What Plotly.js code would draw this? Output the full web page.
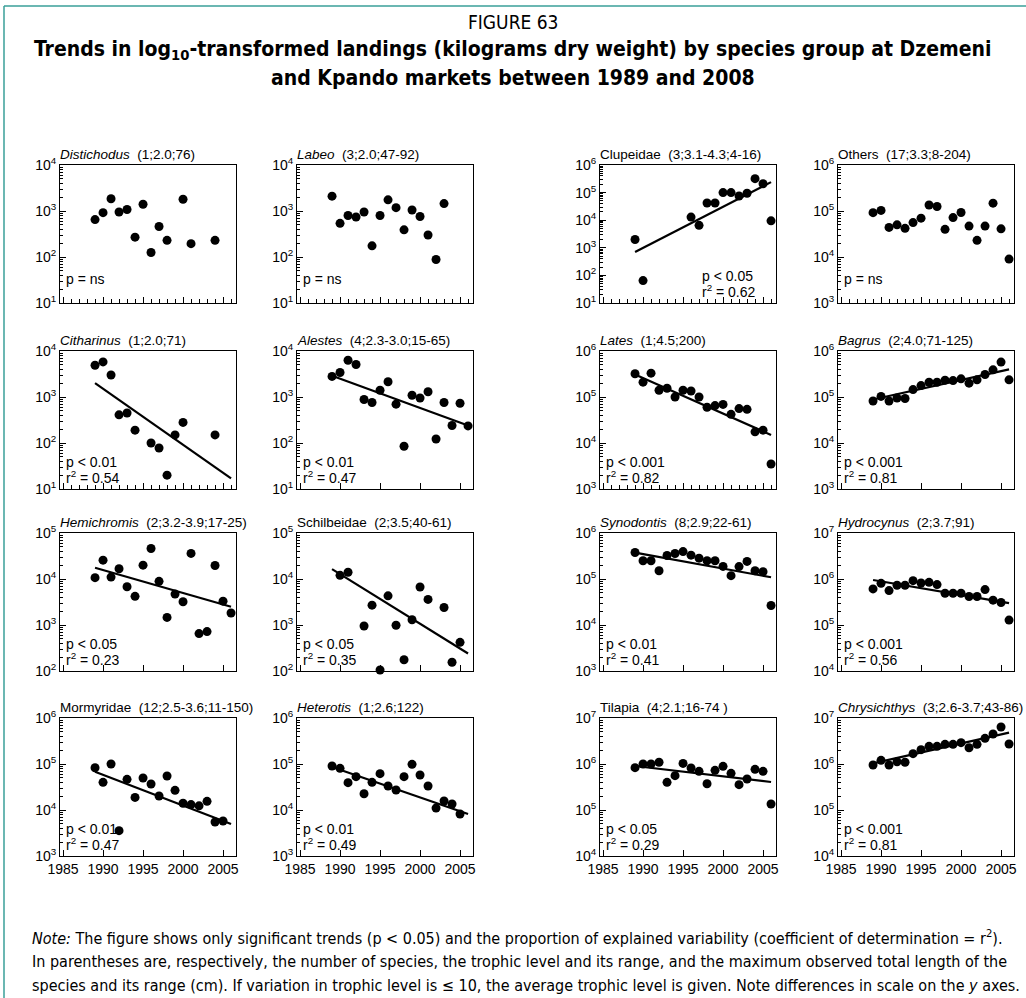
<!DOCTYPE html>
<html><head><meta charset="utf-8">
<script src="https://cdn.plot.ly/plotly-3.0.1.min.js"></script>
<style>html,body{margin:0;padding:0;background:#fff;}#chart{width:1026px;height:998px;}</style>
</head><body><div id="chart"></div>
<script>
// ---------- data (kg dry weight) ----------
const distichodusYears = [1989,1990,1991,1992,1993,1994,1995,1996,1997,1998,2000,2001,2004];
const distichodusKg    = [650,920,1850,950,1080,270,1400,125,460,230,1800,195,230];

const labeoYears = [1989,1990,1991,1992,1993,1994,1995,1996,1997,1998,1999,2000,2001,2002,2003];
const labeoKg    = [2100,540,800,740,950,175,800,1750,1180,390,1050,760,300,88,1450];

const clupeidaeYears = [1989,1990,1996,1997,1998,1999,2000,2001,2002,2003,2004,2005,2006];
const clupeidaeKg    = [2000,65,13000,6500,42000,42000,100000,100000,75000,95000,320000,210000,9500];
const clupeidaeTrendYears = [1989,2006];
const clupeidaeTrendKg    = [700,240000];

const othersYears = [1989,1990,1991,1992,1993,1994,1995,1996,1997,1998,1999,2000,2001,2002,2003,2004,2005,2006];
const othersKg    = [92000,103000,44000,50000,42000,56000,70000,135000,125000,40000,72000,93000,47000,23000,47000,148000,41000,9000];

const citharinusYears = [1989,1990,1991,1992,1993,1994,1996,1997,1998,1999,2000,2004];
const citharinusKg    = [4900,5800,3000,410,450,190,100,78,20,150,280,150];
const citharinusTrendYears = [1989,2006];
const citharinusTrendKg    = [2000,17];

const alestesYears = [1989,1990,1991,1992,1993,1994,1995,1996,1997,1998,1999,2000,2001,2002,2003,2004,2005,2006];
const alestesKg    = [2800,3400,6300,5100,880,760,1400,2150,700,85,1090,950,1300,122,760,240,730,235];
const alestesTrendYears = [1989,2006];
const alestesTrendKg    = [2900,240];

const latesYears = [1989,1990,1991,1992,1993,1994,1995,1996,1997,1998,1999,2000,2001,2002,2003,2004,2005,2006];
const latesKg    = [320000,210000,330000,140000,155000,100000,140000,135000,100000,60000,65000,69000,42000,56000,54000,17500,19000,3500];
const latesTrendYears = [1989,2006];
const latesTrendKg    = [310000,15000];

const bagrusYears = [1989,1990,1991,1992,1993,1994,1995,1996,1997,1998,1999,2000,2001,2002,2003,2004,2005,2006];
const bagrusKg    = [82000,103000,82000,95000,93000,145000,177000,209000,209000,232000,227000,248000,200000,236000,308000,390000,574000,236000];
const bagrusTrendYears = [1989,2006];
const bagrusTrendKg    = [88000,400000];

const hemichromisYears = [1989,1990,1991,1992,1993,1994,1995,1996,1997,1998,1999,2000,2001,2002,2003,2004,2005,2006];
const hemichromisKg    = [10700,25700,11000,16700,6800,4200,20000,46000,8900,1460,4700,3200,36000,650,720,19700,3300,1820];
const hemichromisTrendYears = [1989,2006];
const hemichromisTrendKg    = [17600,2500];

const schilbeidaeYears = [1990,1991,1993,1994,1995,1996,1997,1998,1999,2000,2001,2003,2004,2005];
const schilbeidaeKg    = [12000,14000,950,2700,105,4300,990,176,1300,6700,3600,2400,155,420];
const schilbeidaeTrendYears = [1989,2006];
const schilbeidaeTrendKg    = [16400,240];

const synodontisYears = [1989,1990,1991,1992,1993,1994,1995,1996,1997,1998,1999,2000,2001,2002,2003,2004,2005,2006];
const synodontisKg    = [377000,249000,249000,151000,324000,358000,395000,330000,284000,249000,249000,188000,118000,186000,241000,151000,144000,26600];
const synodontisTrendYears = [1989,2006];
const synodontisTrendKg    = [375000,109000];

const hydrocynusYears = [1989,1990,1991,1992,1993,1994,1995,1996,1997,1998,1999,2000,2001,2002,2003,2004,2005,2006];
const hydrocynusKg    = [608000,806000,560000,730000,730000,920000,820000,847000,755000,491000,491000,491000,416000,416000,589000,347000,308000,128000];
const hydrocynusTrendYears = [1989,2006];
const hydrocynusTrendKg    = [950000,298000];

const mormyridaeYears = [1989,1990,1991,1992,1993,1994,1995,1996,1997,1998,1999,2000,2001,2002,2003,2004,2005];
const mormyridaeKg    = [83000,40000,100000,3550,46400,18800,49700,36700,20100,54800,26800,14000,13100,12300,15400,5480,5770];
const mormyridaeTrendYears = [1989,2006];
const mormyridaeTrendKg    = [68000,4970];

const heterotisYears = [1989,1990,1991,1992,1993,1994,1995,1996,1997,1998,1999,2000,2001,2002,2003,2004,2005];
const heterotisKg    = [90500,80500,39300,53000,22600,40000,61600,33200,27200,53000,98400,57700,33200,11000,15700,13500,8200];
const heterotisTrendYears = [1989,2006];
const heterotisTrendKg    = [86000,8200];

const tilapiaYears = [1989,1990,1991,1992,1993,1994,1995,1996,1997,1998,1999,2000,2001,2002,2003,2004,2005,2006];
const tilapiaKg    = [832000,1000000,1000000,1090000,399000,557000,1030000,818000,693000,373000,728000,890000,627000,356000,472000,766000,693000,135000];
const tilapiaTrendYears = [1989,2006];
const tilapiaTrendKg    = [906000,406000];

const chrysichthysYears = [1989,1990,1991,1992,1993,1994,1995,1996,1997,1998,1999,2000,2001,2002,2003,2004,2005,2006];
const chrysichthysKg    = [950000,1200000,950000,1120000,1090000,1680000,2050000,2420000,2420000,2680000,2680000,2910000,2260000,2680000,3610000,4490000,6370000,2720000];
const chrysichthysTrendYears = [1989,2006];
const chrysichthysTrendKg    = [1030000,4800000];

// panel titles and statistics text
const panelTitles = [
  '<i>Distichodus</i>  (1;2.0;76)', '<i>Labeo</i>  (3;2.0;47-92)', 'Clupeidae  (3;3.1-4.3;4-16)', 'Others  (17;3.3;8-204)',
  '<i>Citharinus</i>  (1;2.0;71)', '<i>Alestes</i>  (4;2.3-3.0;15-65)', '<i>Lates</i>  (1;4.5;200)', '<i>Bagrus</i>  (2;4.0;71-125)',
  '<i>Hemichromis</i>  (2;3.2-3.9;17-25)', 'Schilbeidae  (2;3.5;40-61)', '<i>Synodontis</i>  (8;2.9;22-61)', '<i>Hydrocynus</i>  (2;3.7;91)',
  'Mormyridae  (12;2.5-3.6;11-150)', '<i>Heterotis</i>  (1;2.6;122)', 'Tilapia  (4;2.1;16-74 )', '<i>Chrysichthys</i>  (3;2.6-3.7;43-86)'
];
const panelP  = ['p = ns','p = ns','p &lt; 0.05','p = ns','p &lt; 0.01','p &lt; 0.01','p &lt; 0.001','p &lt; 0.001',
                 'p &lt; 0.05','p &lt; 0.05','p &lt; 0.01','p &lt; 0.001','p &lt; 0.01','p &lt; 0.01','p &lt; 0.05','p &lt; 0.001'];
const panelR2 = [null,null,'0.62',null,'0.54','0.47','0.82','0.81','0.23','0.35','0.41','0.56','0.47','0.49','0.29','0.81'];
// log10 axis ranges (exponents)
const panelYMin = [1,1,1,3, 1,1,3,3, 2,2,3,4, 3,3,4,4];
const panelYMax = [4,4,6,6, 4,4,6,6, 5,5,6,7, 6,6,7,7];
const yearTickLabels = [1985,1990,1995,2000,2005];

// ---------- build ----------
const series = [
  [distichodusYears, distichodusKg, null, null, true],
  [labeoYears, labeoKg, null, null, true],
  [clupeidaeYears, clupeidaeKg, clupeidaeTrendYears, clupeidaeTrendKg, true],
  [othersYears, othersKg, null, null, true],
  [citharinusYears, citharinusKg, citharinusTrendYears, citharinusTrendKg, true],
  [alestesYears, alestesKg, alestesTrendYears, alestesTrendKg, false],
  [latesYears, latesKg, latesTrendYears, latesTrendKg, true],
  [bagrusYears, bagrusKg, bagrusTrendYears, bagrusTrendKg, false],
  [hemichromisYears, hemichromisKg, hemichromisTrendYears, hemichromisTrendKg, false],
  [schilbeidaeYears, schilbeidaeKg, schilbeidaeTrendYears, schilbeidaeTrendKg, false],
  [synodontisYears, synodontisKg, synodontisTrendYears, synodontisTrendKg, false],
  [hydrocynusYears, hydrocynusKg, hydrocynusTrendYears, hydrocynusTrendKg, false],
  [mormyridaeYears, mormyridaeKg, mormyridaeTrendYears, mormyridaeTrendKg, false],
  [heterotisYears, heterotisKg, heterotisTrendYears, heterotisTrendKg, false],
  [tilapiaYears, tilapiaKg, tilapiaTrendYears, tilapiaTrendKg, false],
  [chrysichthysYears, chrysichthysKg, chrysichthysTrendYears, chrysichthysTrendKg, false]
];

const W = 1026, H = 998;
const colLeft = [60, 297, 600, 838];
const rowTop = [165, 351, 533, 718];
const PW = 176, PH = 138;
const px = v => v / W;
const py = v => 1 - v / H;
const FONT = 'Arial, Liberation Sans, Helvetica, sans-serif';
const NARROW = 'Liberation Sans Narrow, DejaVu Sans Condensed, Arial Narrow, sans-serif';

const data = [];
const layout = {
  width: W, height: H,
  margin: {l:0, r:0, t:0, b:0},
  paper_bgcolor: '#fff', plot_bgcolor: 'rgba(0,0,0,0)',
  showlegend: false, hovermode: false,
  font: {family: FONT, color: '#000', size: 13},
  annotations: [], shapes: []
};

series.forEach((s, i) => {
  const r = Math.floor(i / 4), c = i % 4;
  const n = i === 0 ? '' : String(i + 1);
  const L = colLeft[c], T = rowTop[r];
  const decades = [], ticktext = [], minorVals = [];
  for (let e = panelYMin[i]; e <= panelYMax[i]; e++) {
    decades.push(Math.pow(10, e));
    ticktext.push('10<sup>' + e + '</sup>');
    if (e < panelYMax[i]) for (let d = 2; d <= 9; d++) minorVals.push(d * Math.pow(10, e));
  }
  layout['xaxis' + n] = {
    domain: [px(L), px(L + PW)], anchor: 'y' + n,
    range: [1984.62, 2006.62], showgrid: false, zeroline: false,
    showline: true, mirror: true, linecolor: '#000', linewidth: 1,
    tickmode: 'array', tickvals: yearTickLabels, ticktext: yearTickLabels.map(String),
    ticks: 'inside', ticklen: 6, tickcolor: '#000', tickwidth: 1,
    showticklabels: r === 3, tickfont: {size: 14, family: FONT},
    minor: s[4] ? {tickmode: 'linear', tick0: 1985, dtick: 1, ticks: 'inside', ticklen: 4, tickcolor: '#000', tickwidth: 1} : undefined
  };
  layout['yaxis' + n] = {
    domain: [py(T + PH), py(T)], anchor: 'x' + n,
    type: 'log', range: [panelYMin[i], panelYMax[i]],
    showgrid: false, zeroline: false,
    showline: true, mirror: true, linecolor: '#000', linewidth: 1,
    tickmode: 'array', tickvals: decades, ticktext: ticktext,
    ticks: 'inside', ticklen: 6, tickcolor: '#000', tickwidth: 1,
    tickfont: {size: 14, family: FONT},
    minor: {tickmode: 'array', tickvals: minorVals, ticks: 'inside', ticklen: 3, tickcolor: '#000', tickwidth: 1}
  };
  data.push({
    type: 'scatter', mode: 'markers', x: s[0], y: s[1],
    xaxis: 'x' + n, yaxis: 'y' + n, cliponaxis: false,
    marker: {color: '#000', size: 9, line: {width: 0}}
  });
  if (s[2]) {
    data.push({
      type: 'scatter', mode: 'lines', x: s[2], y: s[3],
      xaxis: 'x' + n, yaxis: 'y' + n, cliponaxis: false,
      line: {color: '#000', width: 2.2}
    });
  }
  // panel title
  layout.annotations.push({
    xref: 'paper', yref: 'paper', x: px(L - 2), y: py(T - 11),
    xanchor: 'left', yanchor: 'middle', showarrow: false,
    text: panelTitles[i], font: {size: 13.5, family: FONT, color: '#000'}
  });
  // statistics
  const sx = (i === 2) ? L + 100 : L + 4;
  if (panelR2[i]) {
    layout.annotations.push({xref:'paper', yref:'paper', x: px(sx), y: py(T + PH - 27), xanchor:'left', yanchor:'middle',
      showarrow:false, text: panelP[i], font:{size:14, family: FONT}});
    layout.annotations.push({xref:'paper', yref:'paper', x: px(sx), y: py(T + PH - 12), xanchor:'left', yanchor:'middle',
      showarrow:false, text: 'r<sup>2</sup> = ' + panelR2[i], font:{size:14, family: FONT}});
  } else {
    layout.annotations.push({xref:'paper', yref:'paper', x: px(sx), y: py(T + PH - 24), xanchor:'left', yanchor:'middle',
      showarrow:false, text: panelP[i], font:{size:14, family: FONT}});
  }
});

// figure heading
layout.annotations.push({xref:'paper', yref:'paper', x: 0.5, y: py(22), xanchor:'center', yanchor:'middle', showarrow:false,
  text: 'FIGURE 63', font:{size:19, family: NARROW, color:'#000'}});
layout.annotations.push({xref:'paper', yref:'paper', x: 0.5, y: py(50), xanchor:'center', yanchor:'middle', showarrow:false,
  text: '<b>Trends in log<sub>10</sub>-transformed landings (kilograms dry weight) by species group at Dzemeni</b>', font:{size:21, family: NARROW, color:'#000'}});
layout.annotations.push({xref:'paper', yref:'paper', x: 0.5, y: py(78), xanchor:'center', yanchor:'middle', showarrow:false,
  text: '<b>and Kpando markets between 1989 and 2008</b>', font:{size:21, family: NARROW, color:'#000'}});

// note
const noteLines = [
  '<i>Note:</i> The figure shows only significant trends (p &lt; 0.05) and the proportion of explained variability (coefficient of determination = r<sup>2</sup>).',
  'In parentheses are, respectively, the number of species, the trophic level and its range, and the maximum observed total length of the',
  'species and its range (cm). If variation in trophic level is ≤ 10, the average trophic level is given. Note differences in scale on the <i>y</i> axes.'
];
noteLines.forEach((t, k) => {
  layout.annotations.push({xref:'paper', yref:'paper', x: px(30), y: py(937 + 24 * k), xanchor:'left', yanchor:'middle', showarrow:false,
    text: t, font:{size:16, family: NARROW, color:'#000'}});
});

// frame
layout.shapes.push({type:'line', xref:'paper', yref:'paper', x0: px(4), x1: px(4), y0: py(6), y1: 0, line:{color:'#3a9f98', width:1.5}});
layout.shapes.push({type:'line', xref:'paper', yref:'paper', x0: px(4), x1: 1, y0: py(6), y1: py(6), line:{color:'#3a9f98', width:1.5}});

Plotly.newPlot('chart', data, layout, {displayModeBar: false, staticPlot: true});
</script>
</body></html>
